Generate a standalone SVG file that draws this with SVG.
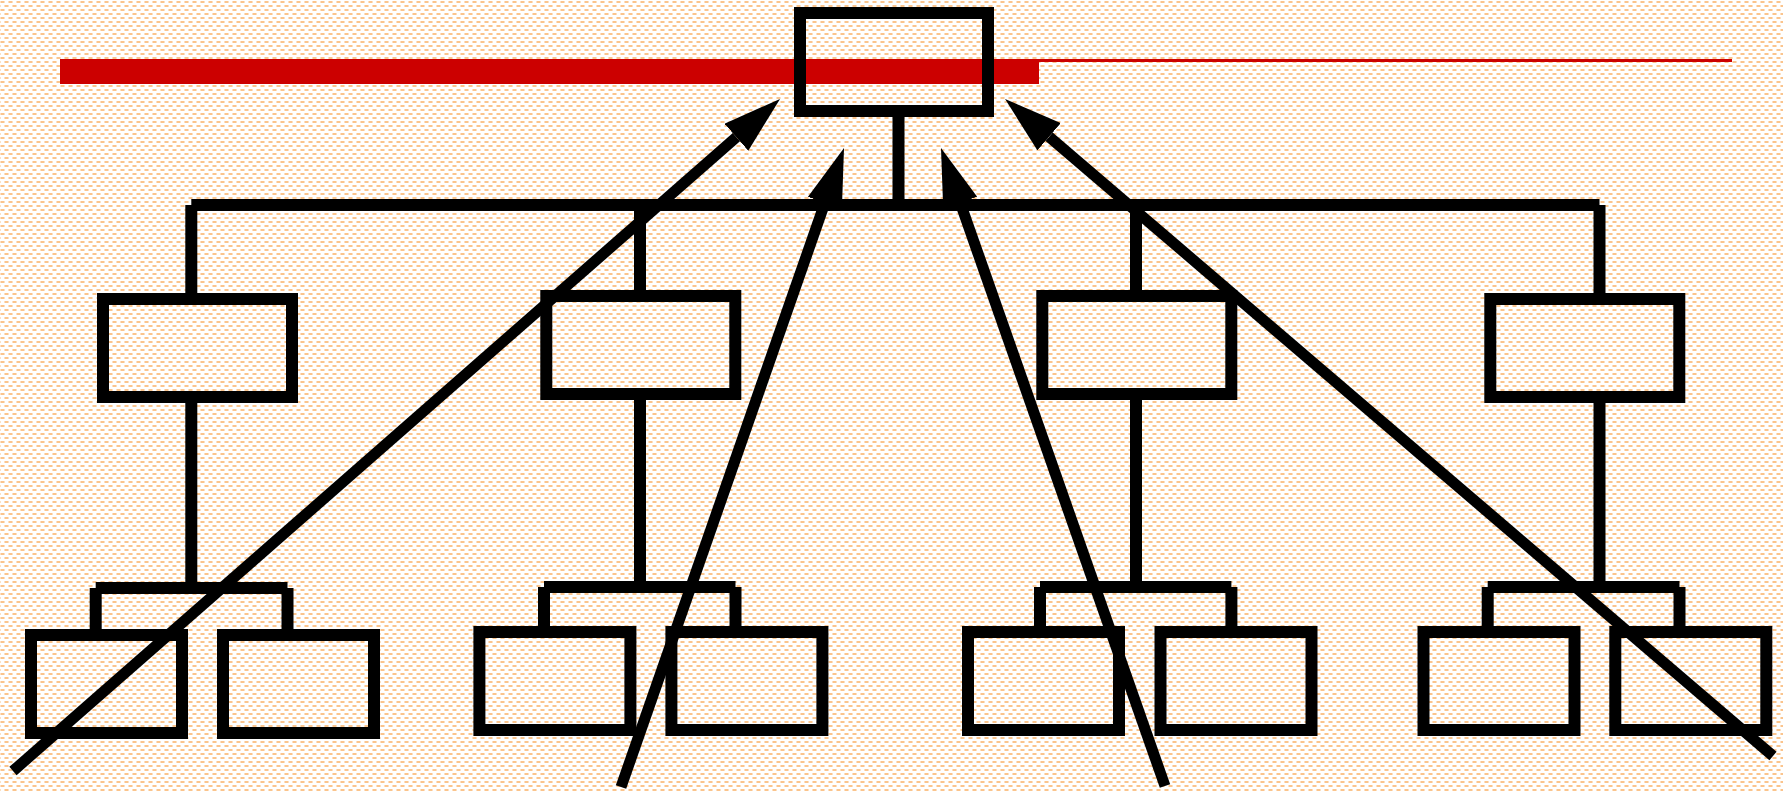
<svg xmlns="http://www.w3.org/2000/svg" width="1783" height="791" viewBox="0 0 1783 791">
  <defs>
    <pattern id="bg" width="8" height="8" patternUnits="userSpaceOnUse">
      <rect width="8" height="8" fill="#ffffff"/>
      <rect x="0" y="1" width="5" height="2" fill="#fde0c2"/>
      <rect x="1" y="1" width="3" height="2" fill="#fbc48c"/>
      <rect x="4" y="5" width="5" height="2" fill="#fde0c2"/>
      <rect x="5" y="5" width="3" height="2" fill="#fbc48c"/>
      <rect x="-4" y="5" width="5" height="2" fill="#fde0c2"/>
    </pattern>
    <marker id="head" markerUnits="userSpaceOnUse" viewBox="0 0 58 36" markerWidth="58" markerHeight="36" refX="0" refY="18" orient="auto">
      <path d="M0,0 L58,18 L0,36 Z" fill="#000"/>
    </marker>
    <style>
      .box { fill: none; stroke: #000; stroke-width: 12; }
      .ln { stroke: #000; stroke-width: 12; fill: none; stroke-linecap: butt; }
      .arr { stroke: #000; stroke-width: 11; fill: none; stroke-linecap: butt; marker-end: url(#head); }
    </style>
  </defs>
  <rect width="1783" height="791" fill="url(#bg)"/>
  <g id="title-bar">
    <rect x="60" y="59" width="979" height="25" fill="#cc0000"/>
    <rect x="1039" y="59" width="693" height="3" fill="#cc0000"/>
  </g>
  <g id="connectors">
    <line class="ln" x1="898.5" y1="111" x2="898.5" y2="205"/>
    <line class="ln" x1="191.3" y1="205" x2="1599.5" y2="205"/>
    <line class="ln" x1="191.3" y1="205" x2="191.3" y2="299"/>
    <line class="ln" x1="640" y1="205" x2="640" y2="296"/>
    <line class="ln" x1="1136" y1="205" x2="1136" y2="296"/>
    <line class="ln" x1="1599.5" y1="205" x2="1599.5" y2="299"/>
    <line class="ln" x1="191.3" y1="397" x2="191.3" y2="588"/>
    <line class="ln" x1="640" y1="394" x2="640" y2="587"/>
    <line class="ln" x1="1136" y1="394" x2="1136" y2="587"/>
    <line class="ln" x1="1599.5" y1="397" x2="1599.5" y2="587"/>
    <line class="ln" x1="95.7" y1="588" x2="287.5" y2="588"/>
    <line class="ln" x1="95.7" y1="588" x2="95.7" y2="635"/>
    <line class="ln" x1="287.5" y1="588" x2="287.5" y2="635"/>
    <line class="ln" x1="544" y1="587" x2="735.5" y2="587"/>
    <line class="ln" x1="544" y1="587" x2="544" y2="632"/>
    <line class="ln" x1="735.5" y1="587" x2="735.5" y2="632"/>
    <line class="ln" x1="1040" y1="587" x2="1231.4" y2="587"/>
    <line class="ln" x1="1040" y1="587" x2="1040" y2="632"/>
    <line class="ln" x1="1231.4" y1="587" x2="1231.4" y2="632"/>
    <line class="ln" x1="1487.7" y1="587" x2="1679.5" y2="587"/>
    <line class="ln" x1="1487.7" y1="587" x2="1487.7" y2="632"/>
    <line class="ln" x1="1679.5" y1="587" x2="1679.5" y2="632"/>
  </g>
  <g id="node-top"><rect class="box" x="800" y="13" width="188" height="98"/></g>
  <g id="node-m1"><rect class="box" x="103" y="299" width="189" height="98"/></g>
  <g id="node-m2"><rect class="box" x="546.3" y="296" width="189" height="98"/></g>
  <g id="node-m3"><rect class="box" x="1042.3" y="296" width="189" height="98"/></g>
  <g id="node-m4"><rect class="box" x="1490.3" y="299" width="189" height="98"/></g>
  <g id="node-b1"><rect class="box" x="31" y="635" width="151" height="98"/></g>
  <g id="node-b2"><rect class="box" x="223" y="635" width="151" height="98"/></g>
  <g id="node-b3"><rect class="box" x="479.4" y="632" width="151" height="98"/></g>
  <g id="node-b4"><rect class="box" x="671.4" y="632" width="151" height="98"/></g>
  <g id="node-b5"><rect class="box" x="968" y="632" width="151" height="98"/></g>
  <g id="node-b6"><rect class="box" x="1160.5" y="632" width="151" height="98"/></g>
  <g id="node-b7"><rect class="box" x="1423.5" y="632" width="151" height="98"/></g>
  <g id="node-b8"><rect class="box" x="1615.3" y="632" width="151" height="98"/></g>
  <g id="arrows">
    <line class="arr" x1="13" y1="771" x2="736.4" y2="137.2"/>
    <line class="arr" x1="621" y1="787" x2="824.9" y2="202.8"/>
    <line class="arr" x1="1165" y1="786" x2="960.2" y2="202.7"/>
    <line class="arr" x1="1773" y1="756" x2="1049.1" y2="136.7"/>
  </g>
</svg>
